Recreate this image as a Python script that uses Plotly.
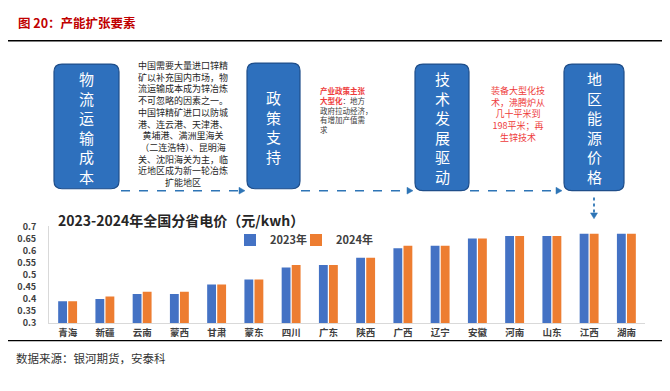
import plotly.graph_objects as go

W, H = 670, 391

# ---------------- data ----------------
provinces = ["青海", "新疆", "云南", "蒙西", "甘肃", "蒙东", "四川", "广东",
             "陕西", "广西", "辽宁", "安徽", "河南", "山东", "江西", "湖南"]
price_2023 = [0.39, 0.40, 0.42, 0.42, 0.46, 0.48, 0.53, 0.54,
              0.57, 0.61, 0.62, 0.65, 0.66, 0.66, 0.67, 0.67]
price_2024 = [0.39, 0.41, 0.43, 0.43, 0.46, 0.48, 0.54, 0.54,
              0.57, 0.62, 0.62, 0.65, 0.66, 0.66, 0.67, 0.67]
series_names = ["2023年", "2024年"]
y_ticks = [0.3, 0.35, 0.4, 0.45, 0.5, 0.55, 0.6, 0.65, 0.7]
y_tick_labels = ["0.3", "0.35", "0.4", "0.45", "0.5", "0.55", "0.6", "0.65", "0.7"]

box_labels = ["物流运输成本", "政策支持", "技术发展驱动", "地区能源价格"]
logistics_text = ["中国需要大量进口锌精", "矿以补充国内市场，物", "流运输成本成为锌冶炼",
                  "不可忽略的因素之一。", "中国锌精矿进口以防城", "港、连云港、天津港、",
                  "黄埔港、满洲里海关", "（二连浩特）、昆明海", "关、沈阳海关为主，临",
                  "近地区成为新一轮冶炼", "扩能地区"]
policy_text = [("产业政策主张", ""), ("大型化", "：地方"), ("", "政府拉动经济，"),
               ("", "有增加产值需"), ("", "求")]
tech_text = ["装备大型化技", "术，沸腾炉从", "几十平米到", "198平米；再", "生锌技术"]

title_text = "图 20：产能扩张要素"
chart_title = "2023-2024年全国分省电价（元/kwh）"
source_text = "数据来源：银河期货，安泰科"

FONT = "Noto Sans CJK SC"
BLUE = "#4472C4"
ORANGE = "#ED7D31"
BOX_FILL = "#2E70BD"
BOX_LINE = "#1F4E8A"
ARROW = "#2E75B6"
RED = "#EE3B3B"


def px(x):
    return x / W


def py(y):
    return 1 - y / H


fig = go.Figure()
fig.add_trace(go.Bar(x=provinces, y=price_2023, name=series_names[0], legend="legend",
                     marker=dict(color=BLUE, line=dict(width=0))))
fig.add_trace(go.Bar(x=provinces, y=price_2024, name=series_names[1], legend="legend2",
                     marker=dict(color=ORANGE, line=dict(width=0))))

shapes = []
annotations = []

# header / footer rules
shapes.append(dict(type="line", xref="paper", yref="paper", x0=px(8), x1=px(662),
                   y0=py(35), y1=py(35), line=dict(color="#000000", width=1.5)))
shapes.append(dict(type="line", xref="paper", yref="paper", x0=px(8), x1=px(662),
                   y0=py(345), y1=py(345), line=dict(color="#000000", width=1.2)))


def rrect(x0, y0, x1, y1, r):
    p = [f"M {px(x0 + r)} {py(y0)}",
         f"L {px(x1 - r)} {py(y0)}",
         f"Q {px(x1)} {py(y0)} {px(x1)} {py(y0 + r)}",
         f"L {px(x1)} {py(y1 - r)}",
         f"Q {px(x1)} {py(y1)} {px(x1 - r)} {py(y1)}",
         f"L {px(x0 + r)} {py(y1)}",
         f"Q {px(x0)} {py(y1)} {px(x0)} {py(y1 - r)}",
         f"L {px(x0)} {py(y0 + r)}",
         f"Q {px(x0)} {py(y0)} {px(x0 + r)} {py(y0)}",
         "Z"]
    return " ".join(p)


boxes = [(54, 59, 119, 188), (247, 58, 300, 188), (415, 59, 469, 190), (564, 59, 624, 190)]
box_centers_y = [125, 124, 125, 125]
for (x0, y0, x1, y1), label, cy in zip(boxes, box_labels, box_centers_y):
    shapes.append(dict(type="path", xref="paper", yref="paper", path=rrect(x0, y0, x1, y1, 8),
                       fillcolor=BOX_FILL, line=dict(color=BOX_LINE, width=1.2)))
    annotations.append(dict(x=px((x0 + x1) / 2), y=py(cy), xref="paper", yref="paper",
                            text="<br>".join(label), showarrow=False,
                            xanchor="center", yanchor="middle", align="center",
                            font=dict(family=FONT, size=15, color="white")))


# dashed connecting arrows
def harrow(x0, x1, y):
    shapes.append(dict(type="line", xref="paper", yref="paper", x0=px(x0), x1=px(x1 - 4),
                       y0=py(y), y1=py(y), line=dict(color=ARROW, width=1.6, dash="dash")))
    shapes.append(dict(type="path", xref="paper", yref="paper",
                       path=f"M {px(x1 - 6)} {py(y - 3.5)} L {px(x1)} {py(y)} L {px(x1 - 6)} {py(y + 3.5)} Z",
                       fillcolor=ARROW, line=dict(color=ARROW, width=0.5)))


harrow(121, 245, 190)
harrow(301, 413, 190)
harrow(470, 562, 190)
# vertical arrow down from last box
shapes.append(dict(type="line", xref="paper", yref="paper", x0=px(594), x1=px(594),
                   y0=py(197), y1=py(214), line=dict(color=ARROW, width=1.8, dash="dot")))
shapes.append(dict(type="path", xref="paper", yref="paper",
                   path=f"M {px(590.5)} {py(213)} L {px(594)} {py(219)} L {px(597.5)} {py(213)} Z",
                   fillcolor=ARROW, line=dict(color=ARROW, width=0.5)))

# logistics description
annotations.append(dict(x=px(183), y=py(121), xref="paper", yref="paper",
                        text="<br>".join(logistics_text), showarrow=False,
                        xanchor="center", yanchor="middle", align="center",
                        font=dict(family=FONT, size=9, color="#262626")))

# policy description
policy_lines = []
for red_part, dark_part in policy_text:
    txt = ""
    if red_part:
        txt += f"<span style='color:{RED}'><b>{red_part}</b></span>"
    if dark_part:
        txt += f"<span style='color:#404040'>{dark_part}</span>"
    policy_lines.append(txt)
annotations.append(dict(x=px(318), y=py(107), xref="paper", yref="paper",
                        text="<br>".join(policy_lines), showarrow=False,
                        xanchor="left", yanchor="middle", align="left",
                        font=dict(family=FONT, size=7.5)))

# tech description
annotations.append(dict(x=px(518), y=py(111), xref="paper", yref="paper",
                        text="<br>".join(tech_text), showarrow=False,
                        xanchor="center", yanchor="middle", align="center",
                        font=dict(family=FONT, size=9, color=RED)))

# titles
annotations.append(dict(x=px(16), y=py(16), xref="paper", yref="paper", text=f"<b>{title_text}</b>",
                        showarrow=False, xanchor="left", yanchor="middle",
                        font=dict(family=FONT, size=12.5, color="#C00000")))
annotations.append(dict(x=px(56), y=py(220), xref="paper", yref="paper", text=f"<b>{chart_title}</b>",
                        showarrow=False, xanchor="left", yanchor="middle",
                        font=dict(family=FONT, size=14, color="#262626")))
annotations.append(dict(x=px(14), y=py(363), xref="paper", yref="paper", text=source_text,
                        showarrow=False, xanchor="left", yanchor="middle",
                        font=dict(family=FONT, size=11.5, color="#333333")))

legend_font = dict(family=FONT, size=11, color="#404040", weight="bold")
fig.update_layout(
    width=W, height=H,
    margin=dict(l=0, r=0, t=0, b=0),
    paper_bgcolor="white", plot_bgcolor="white",
    barmode="group", bargap=0.46, bargroupgap=0.12,
    font=dict(family=FONT),
    shapes=shapes, annotations=annotations,
    showlegend=True,
    legend=dict(orientation="h", x=px(230), y=py(241), xanchor="left", yanchor="middle",
                font=legend_font, bgcolor="rgba(0,0,0,0)", itemwidth=30),
    legend2=dict(orientation="h", x=px(296), y=py(241), xanchor="left", yanchor="middle",
                 font=legend_font, bgcolor="rgba(0,0,0,0)", itemwidth=30),
    xaxis=dict(domain=[px(49), px(645)], showgrid=False, showline=True, linecolor="#D9D9D9",
               linewidth=1, ticks="", tickfont=dict(family=FONT, size=9.5, color="#404040", weight="bold"),
               fixedrange=True),
    yaxis=dict(domain=[py(327), py(227)], range=[0.3, 0.7], showgrid=False, showline=True,
               linecolor="#D9D9D9", linewidth=1, tickvals=y_ticks, ticktext=y_tick_labels,
               ticks="", ticklabelstandoff=10,
               tickfont=dict(family=FONT, size=9, color="#404040", weight="bold"),
               zeroline=False, fixedrange=True),
)

fig.write_html("out.html")
